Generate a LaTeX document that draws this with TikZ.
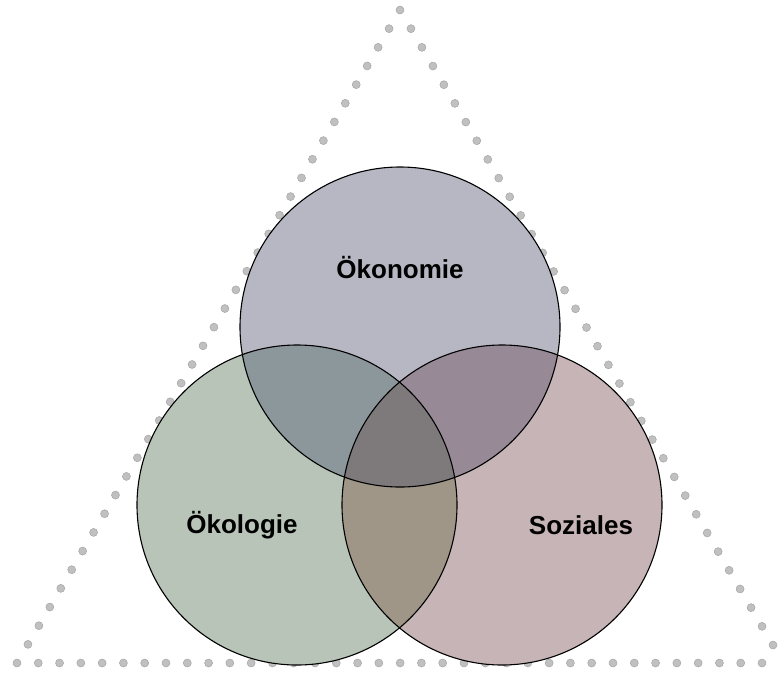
\documentclass[tikz,border=0pt]{standalone}
\usepackage{fontspec}
\setmainfont{Liberation Sans}
\usetikzlibrary{calc}

\definecolor{oekonomie}{RGB}{183,183,195}
\definecolor{oekologie}{RGB}{184,196,184}
\definecolor{soziales}{RGB}{198,180,182}
\definecolor{oekoeko}{RGB}{140,151,155}
\definecolor{oekosoz}{RGB}{151,138,150}
\definecolor{logsoz}{RGB}{159,150,135}
\definecolor{mitte}{RGB}{126,122,124}
\definecolor{dotfill}{RGB}{192,192,192}
\definecolor{dotedge}{RGB}{165,165,165}

\begin{document}
\begin{tikzpicture}[x=1pt, y=-1pt,
  dot/.style={fill=dotfill, draw=dotedge, line width=0.5pt},
  rand/.style={draw=black, line width=1.1pt},
  label/.style={font=\fontsize{26}{30}\selectfont\bfseries, text=black}]
\useasboundingbox (0,0) rectangle (779,673);

% dotted triangle
\foreach \i in {0,...,35}
  \draw[dot] ($(400,10)!\i/35!(17,663)$) circle[radius=4];
\foreach \i in {1,...,34}
  \draw[dot] ($(400,10)!\i/34!(773,645)$) circle[radius=4];
\foreach \i in {1,...,35}
  \draw[dot] ($(17,663)!\i/35!(762,663)$) circle[radius=4];

\coordinate (top) at (400,327);
\coordinate (left) at (297,505);
\coordinate (right) at (502,505);

\fill[oekonomie] (top) circle[radius=160];
\fill[oekologie] (left) circle[radius=160];
\fill[soziales] (right) circle[radius=160];

\begin{scope}
\clip (top) circle[radius=160];
\fill[oekoeko] (left) circle[radius=160];
\fill[oekosoz] (right) circle[radius=160];
\end{scope}
\begin{scope}
\clip (left) circle[radius=160];
\fill[logsoz] (right) circle[radius=160];
\clip (right) circle[radius=160];
\fill[mitte] (top) circle[radius=160];
\end{scope}

\draw[rand] (top) circle[radius=160];
\draw[rand] (left) circle[radius=160];
\draw[rand] (right) circle[radius=160];

\node[label] (oekonomie) at (400,268) {Ökonomie};
\node[label] (oekologie) at (242,525) {Ökologie};
\node[label] (soziales) at (581,525) {Soziales};
\end{tikzpicture}
\end{document}
